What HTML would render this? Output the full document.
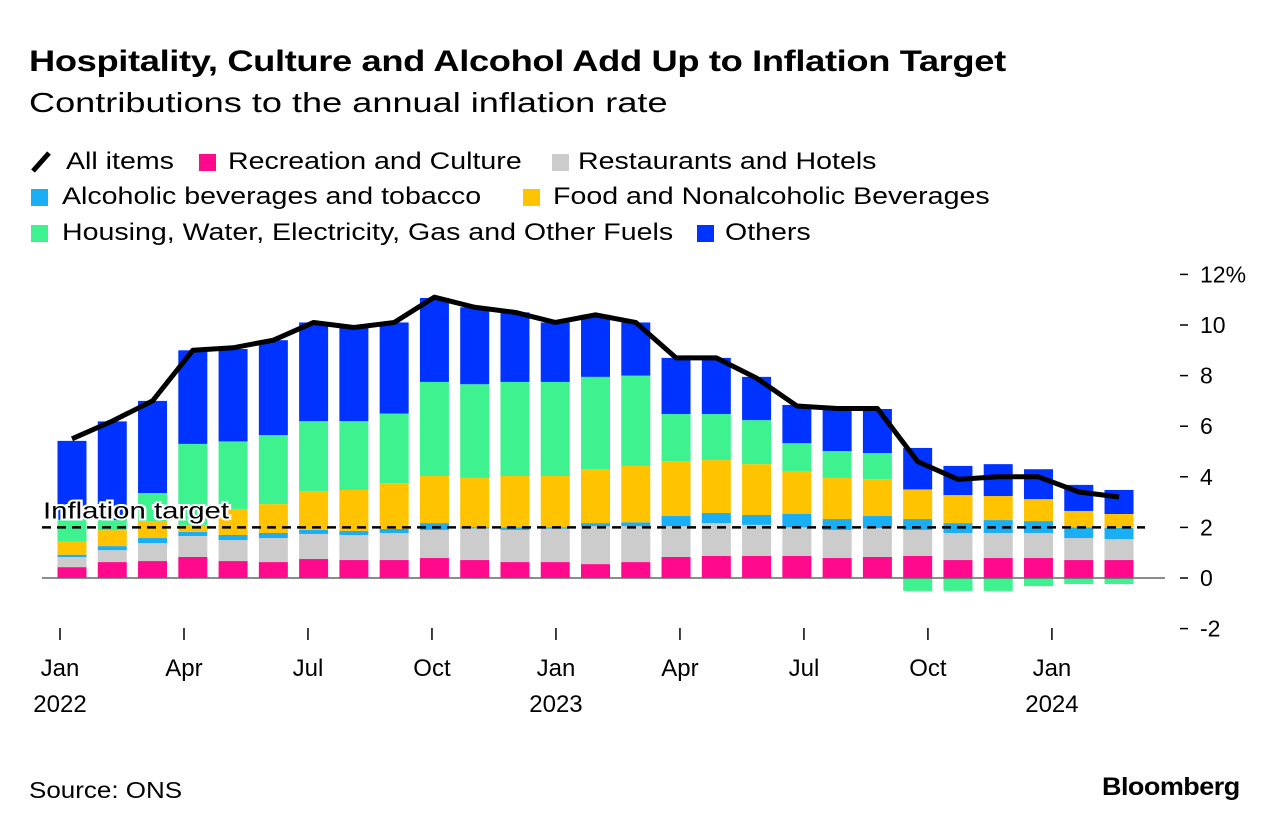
<!DOCTYPE html>
<html><head><meta charset="utf-8">
<style>
body{margin:0;background:#fff;font-family:"Liberation Sans",Arial,sans-serif;color:#000}
#wrap{position:relative;width:1280px;height:832px;overflow:hidden}
.t{position:absolute;white-space:nowrap;transform-origin:0 0}
.lg{font-size:24px;transform:scaleX(1.19)}
.sq{position:absolute;width:17px;height:17px}
</style></head><body>
<div id="wrap">
<div class="t" style="left:29px;top:45px;font-size:30px;font-weight:bold;letter-spacing:-0.3px;transform:scaleX(1.21)">Hospitality, Culture and Alcohol Add Up to Inflation Target</div>
<div class="t" style="left:29px;top:87px;font-size:28px;transform:scaleX(1.29)">Contributions to the annual inflation rate</div>

<svg class="t" style="left:30px;top:150px" width="22" height="24"><line x1="3" y1="21" x2="19" y2="3" stroke="#000" stroke-width="5"/></svg>
<div class="t lg" style="left:66px;top:148px">All items</div>
<div class="sq" style="left:199px;top:154px;background:#ff0a8c"></div>
<div class="t lg" style="left:228px;top:148px">Recreation and Culture</div>
<div class="sq" style="left:552px;top:154px;background:#cccccc"></div>
<div class="t lg" style="left:578px;top:148px">Restaurants and Hotels</div>

<div class="sq" style="left:31px;top:189px;background:#1aaef5"></div>
<div class="t lg" style="left:62px;top:183px">Alcoholic beverages and tobacco</div>
<div class="sq" style="left:523px;top:189px;background:#ffc300"></div>
<div class="t lg" style="left:553px;top:183px">Food and Nonalcoholic Beverages</div>

<div class="sq" style="left:31px;top:225px;background:#3ff290"></div>
<div class="t lg" style="left:62px;top:219px">Housing, Water, Electricity, Gas and Other Fuels</div>
<div class="sq" style="left:697px;top:225px;background:#0033ff"></div>
<div class="t lg" style="left:725px;top:219px">Others</div>

<svg id="plot" class="t" style="left:0;top:0" width="1280" height="832"></svg>

<div class="t" style="left:29px;top:777px;font-size:23px;transform:scaleX(1.13)">Source: ONS</div>
<div class="t" style="left:1102px;top:773px;font-size:25px;font-weight:bold;letter-spacing:-0.5px;transform:scaleX(1.08)">Bloomberg</div>
</div>
<script>
const months=["Jan 2022","Feb","Mar","Apr","May","Jun","Jul","Aug","Sep","Oct","Nov","Dec","Jan 2023","Feb","Mar","Apr","May","Jun","Jul","Aug","Sep","Oct","Nov","Dec","Jan 2024","Feb","Mar"];
const recreation=[.43,.63,.67,.83,.67,.63,.75,.71,.71,.79,.71,.63,.63,.55,.63,.83,.87,.87,.87,.79,.83,.87,.71,.79,.79,.71,.71];
const restaurants=[.40,.47,.71,.83,.83,.95,.99,.99,1.07,1.11,1.25,1.27,1.32,1.5,1.42,1.22,1.3,1.23,1.13,1.11,1.14,1.03,1.07,.99,.99,.87,.83];
const alcohol=[.09,.16,.2,.16,.2,.2,.16,.16,.16,.27,.05,.1,.05,.12,.15,.4,.4,.39,.53,.43,.48,.43,.39,.51,.47,.42,.44];
const food=[.51,.63,.67,.28,1.03,1.14,1.54,1.62,1.81,1.86,1.94,2.03,2.03,2.13,2.23,2.17,2.09,2.01,1.7,1.62,1.45,1.17,1.11,.95,.87,.65,.55];
const housing=[.87,.4,1.11,3.2,2.67,2.73,2.76,2.72,2.75,3.72,3.71,3.72,3.72,3.65,3.57,1.86,1.82,1.74,1.1,1.07,1.04,-.51,-.51,-.51,-.32,-.24,-.24];
const others=[3.12,3.9,3.64,3.7,3.65,3.75,3.9,3.76,3.6,3.32,3.04,2.75,2.35,2.45,2.1,2.22,2.22,1.71,1.51,1.66,1.74,1.64,1.15,1.26,1.18,1.03,.95];
const allItems=[5.5,6.2,7.0,9.0,9.1,9.4,10.1,9.9,10.1,11.1,10.7,10.5,10.1,10.4,10.1,8.7,8.7,7.9,6.8,6.7,6.7,4.6,3.9,4.0,4.0,3.4,3.2];
const yTicks=[-2,0,2,4,6,8,10,12];
const xTickIdx=[0,3,6,9,12,15,18,21,24];
const xTickLabels=["Jan","Apr","Jul","Oct","Jan","Apr","Jul","Oct","Jan"];
const yearLabels=[[0,"2022"],[12,"2023"],[24,"2024"]];
const target=2;

const NS="http://www.w3.org/2000/svg";
const svg=document.getElementById('plot');
const y=v=>578-v*25.3;
const x=i=>72+i*40.27;      // bar centres
const xt=i=>60+i*41.33;     // tick positions
const BW=29;
const FONT='Liberation Sans, sans-serif';
function mk(tag,a){const e=document.createElementNS(NS,tag);for(const k in a)e.setAttribute(k,a[k]);svg.appendChild(e);return e;}
const series=[[recreation,"#ff0a8c","recreation"],[restaurants,"#cccccc","restaurants"],[alcohol,"#1aaef5","alcohol"],[food,"#ffc300","food"],[housing,"#3ff290","housing"],[others,"#0033ff","others"]];
months.forEach((m,i)=>{
  let pos=0,neg=0;
  series.forEach(([arr,col,nm])=>{
    const v=arr[i];let y0,y1;
    if(v>=0){y0=pos;y1=pos+v;pos=y1;}else{y0=neg+v;y1=neg;neg=y0;}
    const r=mk('rect',{x:x(i)-BW/2,y:y(y1),width:BW,height:Math.max(0,y(y0)-y(y1)),fill:col});
    
    
  });
});
const zl=mk('line',{x1:42,x2:1165,y1:y(0),y2:y(0),stroke:'#666','stroke-width':1.5});


const tl=mk('line',{x1:42,x2:1145,y1:y(target),y2:y(target),stroke:'#000','stroke-width':2.5,'stroke-dasharray':'9,6'});


const tt=mk('text',{x:43,y:y(target)-9,'font-size':23,'font-family':FONT,stroke:'#fff','stroke-width':4,'paint-order':'stroke',fill:'#000',textLength:186,lengthAdjust:'spacingAndGlyphs'});
tt.textContent='Inflation target';


const ln=mk('polyline',{points:allItems.map((v,i)=>x(i)+','+y(v)).join(' '),fill:'none',stroke:'#000','stroke-width':5,'stroke-linejoin':'round'});


yTicks.forEach(v=>{
  const l=mk('line',{x1:1180,x2:1188,y1:y(v),y2:y(v),stroke:'#000','stroke-width':1.5});
  
  
  const t=mk('text',{x:1200,y:y(v)+8,'font-size':23,'font-family':FONT});
  t.textContent=v+(v===12?'%':'');
  
  
});
xTickIdx.forEach((idx,k)=>{
  const l=mk('line',{x1:xt(idx),x2:xt(idx),y1:628,y2:640,stroke:'#000','stroke-width':1.5});
  
  
  const t=mk('text',{x:xt(idx),y:676,'font-size':24,'text-anchor':'middle','font-family':FONT});
  t.textContent=xTickLabels[k];
  
  
});
yearLabels.forEach(([idx,lab])=>{
  const t=mk('text',{x:xt(idx),y:712,'font-size':24,'text-anchor':'middle','font-family':FONT});
  t.textContent=lab;
  
  
});
</script>
</body></html>
